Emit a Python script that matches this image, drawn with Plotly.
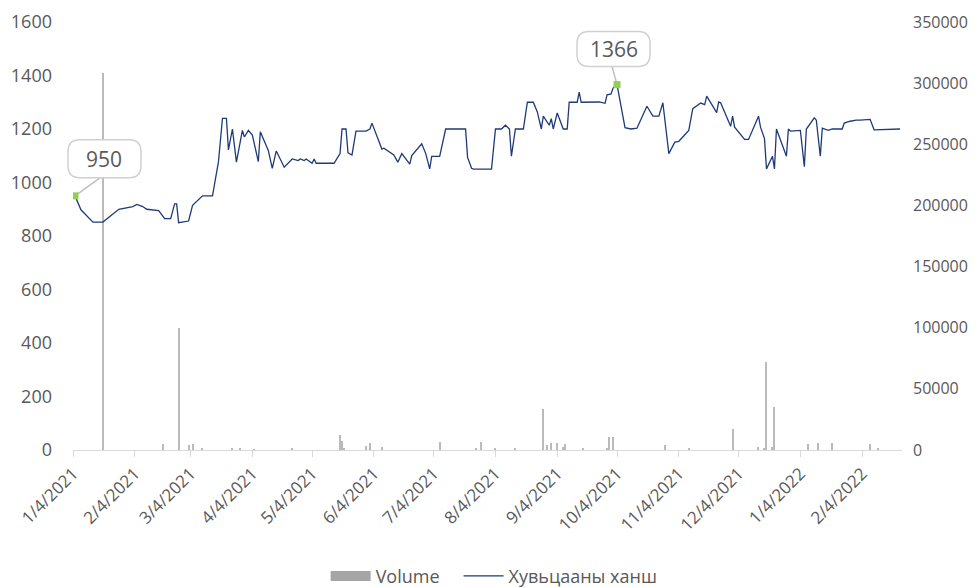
import datetime as dt
import plotly.graph_objects as go

price_dates = [
    "2021-01-05", "2021-01-08", "2021-01-14", "2021-01-19", "2021-01-27", "2021-02-03", "2021-02-05",
    "2021-02-08", "2021-02-10", "2021-02-16", "2021-02-19", "2021-02-22", "2021-02-24", "2021-02-25",
    "2021-02-26", "2021-03-03", "2021-03-05", "2021-03-10", "2021-03-15", "2021-03-18", "2021-03-20",
    "2021-03-22", "2021-03-23", "2021-03-25", "2021-03-27", "2021-03-30", "2021-03-31", "2021-04-02",
    "2021-04-04", "2021-04-07", "2021-04-08", "2021-04-12", "2021-04-14", "2021-04-16", "2021-04-20",
    "2021-04-24", "2021-04-27", "2021-04-28", "2021-04-30", "2021-05-01", "2021-05-04", "2021-05-05",
    "2021-05-06", "2021-05-15", "2021-05-18", "2021-05-19", "2021-05-21", "2021-05-22", "2021-05-24",
    "2021-05-26", "2021-05-31", "2021-06-02", "2021-06-03", "2021-06-08", "2021-06-09", "2021-06-14",
    "2021-06-16", "2021-06-18", "2021-06-22", "2021-06-23", "2021-06-28", "2021-06-30", "2021-07-02",
    "2021-07-03", "2021-07-07", "2021-07-10", "2021-07-20", "2021-07-21", "2021-07-23", "2021-07-24",
    "2021-08-02", "2021-08-04", "2021-08-07", "2021-08-09", "2021-08-11", "2021-08-12", "2021-08-14",
    "2021-08-18", "2021-08-20", "2021-08-23", "2021-08-25", "2021-08-27", "2021-08-28", "2021-08-30",
    "2021-08-31", "2021-09-01", "2021-09-02", "2021-09-04", "2021-09-07", "2021-09-09", "2021-09-10",
    "2021-09-14", "2021-09-15", "2021-09-16", "2021-09-25", "2021-09-28", "2021-09-29", "2021-10-01",
    "2021-10-02", "2021-10-04", "2021-10-08", "2021-10-11", "2021-10-14", "2021-10-19", "2021-10-22",
    "2021-10-25", "2021-10-27", "2021-10-30", "2021-11-02", "2021-11-04", "2021-11-09", "2021-11-11",
    "2021-11-15", "2021-11-17", "2021-11-18", "2021-11-23", "2021-11-24", "2021-11-25", "2021-11-30",
    "2021-12-01", "2021-12-02", "2021-12-07", "2021-12-09", "2021-12-14", "2021-12-15", "2021-12-17",
    "2021-12-18", "2021-12-21", "2021-12-22", "2021-12-23", "2021-12-28", "2021-12-29", "2021-12-30",
    "2022-01-04", "2022-01-06", "2022-01-07", "2022-01-11", "2022-01-12", "2022-01-14", "2022-01-15",
    "2022-01-18", "2022-01-20", "2022-01-25", "2022-01-26", "2022-01-29", "2022-02-01", "2022-02-03",
    "2022-02-08", "2022-02-10", "2022-02-23",
]
price_values = [
    950, 898, 852, 852, 900, 910, 918,
    910, 900, 895, 865, 865, 920, 920,
    850, 856, 915, 950, 950, 1078, 1240,
    1240, 1122, 1200, 1076, 1195, 1170, 1195,
    1177, 1078, 1190, 1120, 1053, 1118, 1057,
    1088, 1082, 1088, 1082, 1088, 1072, 1088,
    1072, 1072, 1108, 1200, 1200, 1111, 1103,
    1192, 1192, 1200, 1222, 1125, 1128, 1103,
    1076, 1108, 1069, 1101, 1145, 1108, 1051,
    1098, 1098, 1200, 1200, 1094, 1053, 1050,
    1050, 1200, 1200, 1214, 1200, 1098, 1200,
    1200, 1300, 1300, 1264, 1200, 1248, 1226,
    1214, 1239, 1200, 1260, 1200, 1200, 1300,
    1300, 1338, 1300, 1301, 1296, 1328, 1331,
    1353, 1366, 1205, 1200, 1203, 1285, 1248,
    1248, 1298, 1108, 1151, 1154, 1195, 1276,
    1297, 1291, 1323, 1261, 1301, 1298, 1210,
    1248, 1207, 1161, 1161, 1248, 1207, 1164,
    1051, 1098, 1051, 1200, 1098, 1200, 1192,
    1195, 1059, 1200, 1242, 1233, 1098, 1203,
    1195, 1200, 1200, 1222, 1229, 1233, 1233,
    1236, 1197, 1200,
]

volume_dates = [
    "2021-01-19", "2021-02-18", "2021-02-26", "2021-03-03", "2021-03-05", "2021-03-10", "2021-03-25",
    "2021-03-29", "2021-04-05", "2021-04-24", "2021-05-18", "2021-05-19", "2021-05-20", "2021-05-31",
    "2021-06-02", "2021-06-08", "2021-07-07", "2021-07-25", "2021-07-28", "2021-08-04", "2021-08-14",
    "2021-08-28", "2021-08-30", "2021-09-01", "2021-09-04", "2021-09-07", "2021-09-08", "2021-09-17",
    "2021-09-29", "2021-09-30", "2021-10-02", "2021-10-28", "2021-11-09", "2021-12-01", "2021-12-14",
    "2021-12-17", "2021-12-18", "2021-12-21", "2021-12-22", "2022-01-08", "2022-01-13", "2022-01-20",
    "2022-02-08", "2022-02-12",
]
volume_values = [
    308000, 5000, 100000, 4000, 5000, 1500, 1500,
    1000, 800, 1500, 12300, 7400, 1000, 3500,
    5500, 2500, 6800, 2000, 6300, 1500, 1500,
    33300, 4000, 5500, 5500, 2500, 4900, 1500,
    2000, 10900, 10900, 4000, 1000, 17200, 2500,
    1500, 71700, 2500, 35400, 4900, 5500, 5500,
    4900, 1000,
]

highlight_dates = ["2021-01-05", "2021-10-04"]
highlight_values = [950, 1366]
highlight_labels = ["950", "1366"]

tick_dates = [
    "2021-01-04", "2021-02-04", "2021-03-04", "2021-04-04", "2021-05-04", "2021-06-04", "2021-07-04",
    "2021-08-04", "2021-09-04", "2021-10-04", "2021-11-04", "2021-12-04", "2022-01-04", "2022-02-04",
]
tick_labels = [
    "1/4/2021", "2/4/2021", "3/4/2021", "4/4/2021", "5/4/2021", "6/4/2021", "7/4/2021",
    "8/4/2021", "9/4/2021", "10/4/2021", "11/4/2021", "12/4/2021", "1/4/2022", "2/4/2022",
]

X_RANGE = ["2021-01-04", "2022-02-24"]

FONT = "Open Sans"
TXT = "#595959"
GRAY = "#bababa"
NAVY = "#1f3a78"

fig = go.Figure()

fig.add_trace(go.Bar(
    x=volume_dates, y=volume_values, yaxis="y", name="Volume",
    marker=dict(color=GRAY, line=dict(width=0)), width=0.55 * 86400000,
    showlegend=False, hoverinfo="x+y",
))
fig.add_trace(go.Scatter(
    x=[None], y=[None], mode="lines", name="Volume&nbsp;&nbsp;&nbsp;", yaxis="y",
    line=dict(color="#a5a5a5", width=10), showlegend=True,
))
fig.add_trace(go.Scatter(
    x=price_dates, y=price_values, yaxis="y2", mode="lines", name="Хувьцааны ханш",
    line=dict(color=NAVY, width=1.3),
))
fig.add_trace(go.Scatter(
    x=highlight_dates, y=highlight_values, yaxis="y2", mode="markers", showlegend=False,
    marker=dict(symbol="square", size=7, color="#92d050", line=dict(width=0)),
))


def rounded(x0, x1, y0, y1, r):
    return (f"M{x0 + r},{y0} L{x1 - r},{y0} Q{x1},{y0} {x1},{y0 + r} "
            f"L{x1},{y1 - r} Q{x1},{y1} {x1 - r},{y1} L{x0 + r},{y1} "
            f"Q{x0},{y1} {x0},{y1 - r} L{x0},{y0 + r} Q{x0},{y0} {x0 + r},{y0} Z")


def to_paper(date_str):
    t0 = dt.datetime.fromisoformat(X_RANGE[0])
    t1 = dt.datetime.fromisoformat(X_RANGE[1])
    t = dt.datetime.fromisoformat(date_str)
    return (t - t0).total_seconds() / (t1 - t0).total_seconds()


# callout geometry in pixels relative to the highlighted point
callouts = [
    dict(box=(-7, 66, 18, 56), tip=(25, 18)),
    dict(box=(-40, 33, 18, 53), tip=(-5, 18)),
]
shapes = []
annotations = []
for d, v, lab, c in zip(highlight_dates, highlight_values, highlight_labels, callouts):
    bx0, bx1, by0, by1 = c["box"]
    tx, ty = c["tip"]
    xp = to_paper(d)
    shapes.append(dict(
        type="line", xref="paper", yref="y2", xsizemode="pixel", ysizemode="pixel",
        xanchor=xp, yanchor=v, x0=0, y0=0, x1=tx, y1=ty,
        line=dict(color="#bfbfbf", width=1.5), layer="below",
    ))
    shapes.append(dict(
        type="path", xref="paper", yref="y2", xsizemode="pixel", ysizemode="pixel",
        xanchor=xp, yanchor=v, path=rounded(bx0, bx1, by0, by1, 12),
        fillcolor="white", line=dict(color="#d0d0d0", width=1.5), layer="above",
    ))
    annotations.append(dict(
        x=d, y=v, xref="x", yref="y2", text=lab, showarrow=False,
        xshift=(bx0 + bx1) / 2, yshift=(by0 + by1) / 2,
        font=dict(family=FONT, size=21, color=TXT),
    ))

fig.update_layout(
    width=979, height=587,
    margin=dict(l=73, r=77, t=22, b=137, autoexpand=False),
    paper_bgcolor="white", plot_bgcolor="white",
    font=dict(family=FONT, color=TXT),
    xaxis=dict(
        type="date", range=X_RANGE, automargin=False,
        tickvals=tick_dates, ticktext=tick_labels, tickangle=-45,
        tickfont=dict(family=FONT, size=17, color=TXT),
        showgrid=False, zeroline=False,
        showline=True, linecolor="#d9d9d9", linewidth=1,
        ticks="outside", ticklen=6, tickcolor="#d9d9d9",
    ),
    yaxis=dict(
        range=[0, 350000], dtick=50000, side="right", tickformat="d",
        tickfont=dict(family=FONT, size=16, color=TXT), automargin=False,
        showgrid=False, zeroline=False, showline=False,
        ticklabelstandoff=10,
    ),
    yaxis2=dict(
        range=[0, 1600], dtick=200, side="left", overlaying="y",
        tickfont=dict(family=FONT, size=18, color=TXT), automargin=False,
        showgrid=False, zeroline=False, showline=False,
        ticklabelstandoff=20,
    ),
    legend=dict(
        orientation="h", x=0.508, xanchor="center", y=-0.295, yanchor="middle",
        font=dict(family=FONT, size=18, color=TXT), traceorder="normal",
        itemwidth=40,
    ),
    shapes=shapes, annotations=annotations,
    showlegend=True, bargap=0,
)

fig.write_html(
    "out.html",
    config={"displayModeBar": False},
    post_script="document.body.style.margin='0px';document.body.style.padding='0px';",
)
